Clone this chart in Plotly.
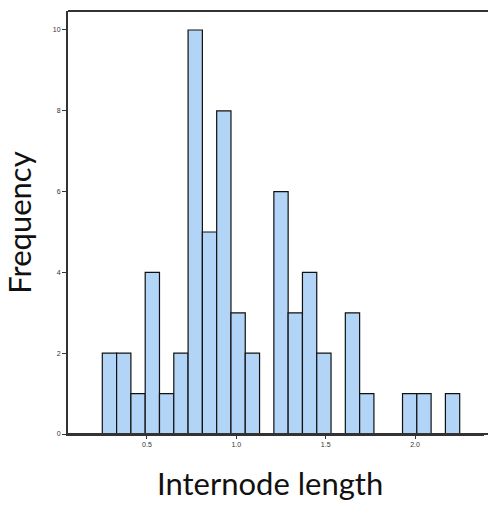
import plotly.graph_objects as go

# Histogram of internode lengths: fixed-width bins, counts per bin
bin_start = 0.25
bin_width = 0.08
counts = [2, 2, 1, 4, 1, 2, 10, 5, 8, 3, 2, 0, 6, 3, 4, 2, 0, 3, 1, 0, 0, 1, 1, 0, 1]
x_ticks = [0.5, 1.0, 1.5, 2.0]
y_ticks = [0, 2, 4, 6, 8, 10]

centers = [bin_start + bin_width * (i + 0.5) for i in range(len(counts))]
xs = [c for c, n in zip(centers, counts) if n > 0]
ys = [n for n in counts if n > 0]

fig = go.Figure(go.Bar(
    x=xs, y=ys, width=bin_width,
    marker=dict(color="#b2d4f6", line=dict(color="#111111", width=1.2)),
))

title_font = dict(family="Lato", size=31, color="#111111")
frame = dict(color="#333333", width=2)

fig.update_layout(
    width=488, height=508,
    margin=dict(l=68, r=4, t=11, b=74),
    paper_bgcolor="white", plot_bgcolor="white",
    showlegend=False,
    font=dict(family="Liberation Sans, Arial", color="#333333"),
    # top and bottom frame lines run to the right edge of the page
    shapes=[
        dict(type="line", xref="paper", yref="paper", x0=0, x1=1.0096, y0=1, y1=1, line=frame),
        dict(type="line", xref="paper", yref="paper", x0=0, x1=1.0096, y0=0, y1=0, line=frame),
    ],
    annotations=[dict(text="Internode length", xref="paper", yref="paper",
                      x=0.486, y=-0.066, xanchor="center", yanchor="top",
                      showarrow=False, font=title_font)],
)
fig.update_xaxes(
    range=[0.058, 2.386], tickvals=x_ticks, tickformat=".1f",
    showgrid=False, zeroline=False,
    showline=True, linecolor="#333333", linewidth=2, mirror=False,
    ticks="outside", ticklen=3, tickcolor="#333333",
    tickfont=dict(size=7),
)
fig.update_yaxes(
    range=[0, 10.47], tickvals=y_ticks,
    showgrid=False, zeroline=False,
    showline=True, linecolor="#333333", linewidth=2, mirror=False,
    ticks="outside", ticklen=4, tickcolor="#333333",
    tickfont=dict(size=7),
    title=dict(text="Frequency", font=title_font, standoff=16),
)

fig.write_html("out.html")
